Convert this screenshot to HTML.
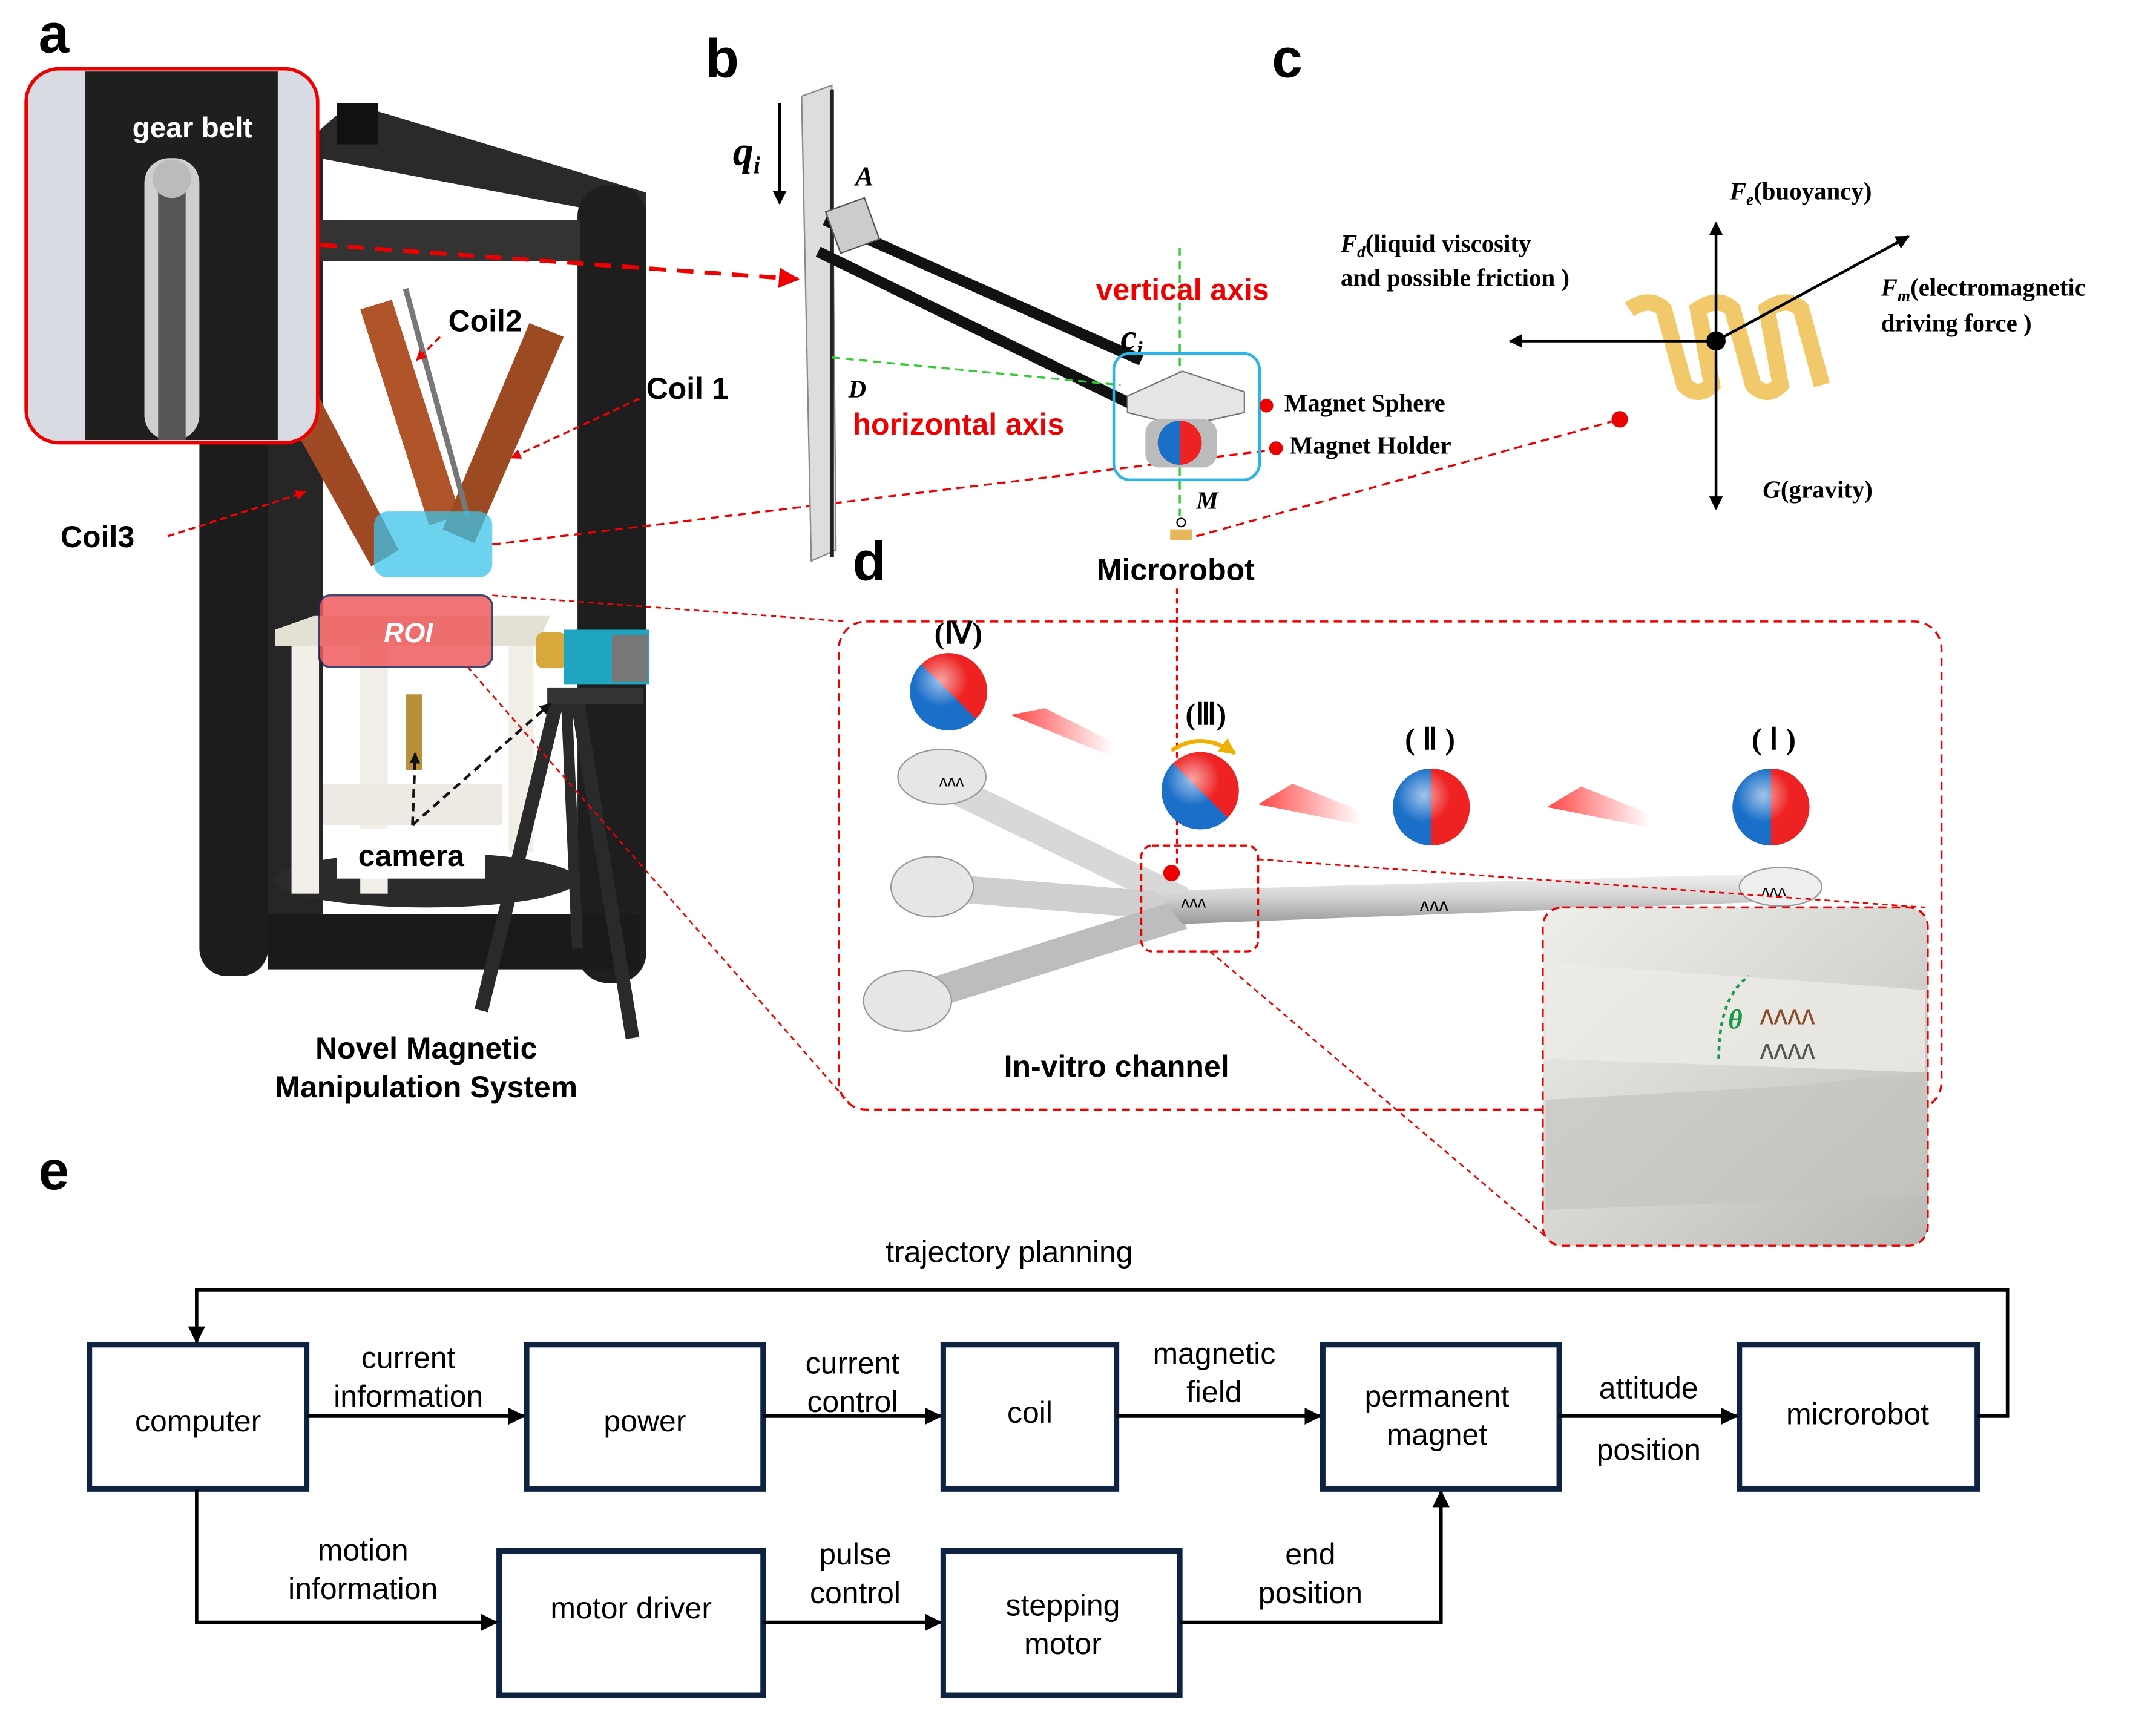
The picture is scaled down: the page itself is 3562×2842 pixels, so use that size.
<!DOCTYPE html>
<html><head><meta charset="utf-8"><style>
html,body{margin:0;padding:0;background:#fff;}
svg{display:block;}
text{font-family:"Liberation Sans",sans-serif;}
.s{font-family:"Liberation Serif",serif;font-weight:bold;}
</style></head><body>
<svg width="3562" height="2842" viewBox="0 0 1568 1251" xmlns="http://www.w3.org/2000/svg">
<defs>
<marker id="ah" viewBox="0 0 10 10" refX="9" refY="5" markerWidth="5" markerHeight="5" orient="auto"><path d="M0,0L10,5L0,10z" fill="#000"/></marker>
<marker id="ao" viewBox="0 0 10 10" refX="9" refY="5" markerWidth="4" markerHeight="4" orient="auto"><path d="M0,0L10,5L0,10z" fill="#f0b000"/></marker>
<marker id="ar" viewBox="0 0 10 10" refX="9" refY="5" markerWidth="5" markerHeight="5" orient="auto"><path d="M0,0L10,5L0,10z" fill="#e00"/></marker>
<marker id="ab" viewBox="0 0 10 10" refX="9" refY="5" markerWidth="4" markerHeight="4" orient="auto"><path d="M0,0L10,5L0,10z" fill="#111"/></marker>
<radialGradient id="sph" cx="0.4" cy="0.35" r="0.7"><stop offset="0" stop-color="#fff" stop-opacity="0.6"/><stop offset="0.5" stop-color="#fff" stop-opacity="0"/></radialGradient>
<linearGradient id="tube" x1="0" y1="0" x2="0" y2="1"><stop offset="0" stop-color="#f2f2f2"/><stop offset="0.5" stop-color="#d0d0d0"/><stop offset="1" stop-color="#999"/></linearGradient>
<linearGradient id="fade" x1="1" y1="0" x2="0" y2="0"><stop offset="0" stop-color="#f55" stop-opacity="0"/><stop offset="1" stop-color="#f44"/></linearGradient>
<linearGradient id="ins" x1="0" y1="0" x2="1" y2="1"><stop offset="0" stop-color="#eeeeea"/><stop offset="0.5" stop-color="#d6d6d2"/><stop offset="1" stop-color="#b8b8b4"/></linearGradient>
</defs>

<text x="28" y="38" font-size="40" font-weight="bold">a</text>
<polygon points="232,95 255,75 470,140 470,160 232,115" fill="#2a2a2a"/>
<rect x="145" y="190" width="50" height="520" rx="20" fill="#1c1c1c"/>
<rect x="420" y="135" width="50" height="580" rx="22" fill="#1e1e1e"/>
<rect x="195" y="95" width="40" height="600" fill="#262626"/>
<rect x="195" y="665" width="270" height="40" fill="#1a1a1a"/>
<ellipse cx="310" cy="640" rx="110" ry="20" fill="#2b2b2b"/>
<rect x="232" y="160" width="190" height="30" fill="#333"/>
<rect x="245" y="75" width="30" height="30" fill="#111"/>
<polygon points="205,295 230,285 290,400 270,412" fill="#a04a25"/>
<polygon points="262,225 285,218 335,375 312,382" fill="#b0552a"/>
<polygon points="385,235 410,245 345,395 322,385" fill="#9c4a22"/>
<line x1="295" y1="210" x2="340" y2="375" stroke="#777" stroke-width="4"/>
<rect x="272" y="372" width="86" height="48" rx="10" fill="#3cc3e8" opacity="0.75"/>
<polygon points="200,458 228,448 400,448 390,470 200,470" fill="#e4e0d4"/>
<rect x="212" y="470" width="20" height="180" fill="#f1efe8"/>
<rect x="262" y="470" width="20" height="180" fill="#f1efe8"/>
<rect x="370" y="470" width="18" height="150" fill="#f1efe8"/>
<rect x="235" y="570" width="130" height="30" fill="#eceae3"/>
<rect x="295" y="505" width="12" height="55" fill="#b9903a"/>
<rect x="232" y="433" width="126" height="52" rx="8" fill="#ef5b5b" opacity="0.85" stroke="#1a2a5a" stroke-width="1.5"/>
<text x="297" y="467" font-size="20" font-weight="bold" font-style="italic" fill="#fff" text-anchor="middle">ROI</text>
<rect x="390" y="460" width="22" height="26" rx="5" fill="#d7a83b"/>
<rect x="410" y="458" width="62" height="40" fill="#20a5c0"/>
<rect x="445" y="462" width="26" height="34" fill="#777"/>
<line x1="405" y1="510" x2="350" y2="735" stroke="#2a2a2a" stroke-width="10"/>
<line x1="420" y1="510" x2="460" y2="755" stroke="#2a2a2a" stroke-width="10"/>
<line x1="412" y1="510" x2="420" y2="690" stroke="#2a2a2a" stroke-width="8"/>
<rect x="398" y="500" width="70" height="12" fill="#333"/>
<line x1="300" y1="600" x2="400" y2="512" stroke="#111" stroke-width="2" stroke-dasharray="6,4" marker-end="url(#ab)"/>
<line x1="300" y1="600" x2="302" y2="548" stroke="#111" stroke-width="2" stroke-dasharray="6,4" marker-end="url(#ab)"/>
<rect x="245" y="603" width="108" height="36" fill="#fff"/>
<text x="299" y="630" font-size="22" font-weight="bold" text-anchor="middle">camera</text>
<rect x="19" y="50" width="212" height="272" rx="24" fill="#d8dce2" stroke="#e00" stroke-width="2.5"/>
<rect x="62" y="52" width="140" height="268" fill="#1f1f1f"/>
<rect x="105" y="115" width="40" height="205" rx="18" fill="#cfcfcf"/>
<rect x="115" y="130" width="20" height="190" fill="#555"/>
<circle cx="125" cy="130" r="14" fill="#bbb"/>
<text x="140" y="100" font-size="21" font-weight="bold" fill="#fff" text-anchor="middle">gear belt</text>
<text x="326" y="241" font-size="22" font-weight="bold">Coil2</text>
<text x="470" y="290" font-size="22" font-weight="bold">Coil 1</text>
<text x="44" y="398" font-size="22" font-weight="bold">Coil3</text>
<line x1="320" y1="245" x2="303" y2="262" stroke="#e00" stroke-width="1.5" stroke-dasharray="5,3" marker-end="url(#ar)"/>
<line x1="465" y1="290" x2="372" y2="333" stroke="#e00" stroke-width="1.5" stroke-dasharray="5,3" marker-end="url(#ar)"/>
<line x1="122" y1="390" x2="222" y2="358" stroke="#e00" stroke-width="1.5" stroke-dasharray="5,3" marker-end="url(#ar)"/>
<text x="310" y="770" font-size="22" font-weight="bold" text-anchor="middle">Novel Magnetic</text>
<text x="310" y="798" font-size="22" font-weight="bold" text-anchor="middle">Manipulation System</text>
<line x1="233" y1="178" x2="580" y2="203" stroke="#e00" stroke-width="3" stroke-dasharray="12,8" marker-end="url(#ar)"/>
<line x1="358" y1="396" x2="928" y2="327" stroke="#e00" stroke-width="1.5" stroke-dasharray="6,4"/>
<line x1="358" y1="433" x2="615" y2="452" stroke="#e00" stroke-width="1.2" stroke-dasharray="4,3"/>
<line x1="340" y1="485" x2="620" y2="805" stroke="#e00" stroke-width="1.2" stroke-dasharray="4,3"/>

<text x="513" y="56" font-size="40" font-weight="bold">b</text>
<polygon points="583,70 605,62 608,400 590,408" fill="#ddd" stroke="#888" stroke-width="1"/>
<line x1="605" y1="65" x2="605" y2="405" stroke="#222" stroke-width="3"/>
<line x1="567" y1="75" x2="567" y2="148" stroke="#000" stroke-width="2" marker-end="url(#ah)"/>
<text x="533" y="120" font-size="30" class="s" font-style="italic">q<tspan font-size="18" dy="6">i</tspan></text>
<text x="622" y="135" font-size="20" class="s" font-style="italic">A</text>
<line x1="600" y1="160" x2="830" y2="262" stroke="#111" stroke-width="8"/>
<line x1="595" y1="183" x2="825" y2="295" stroke="#111" stroke-width="8"/>
<rect x="605" y="148" width="30" height="32" fill="#ccc" stroke="#555" transform="rotate(-20 620 164)"/>
<line x1="605" y1="260" x2="815" y2="280" stroke="#3c3" stroke-width="1.5" stroke-dasharray="6,4"/>
<line x1="858" y1="180" x2="858" y2="375" stroke="#3c3" stroke-width="1.5" stroke-dasharray="6,4"/>
<text x="617" y="289" font-size="18" class="s" font-style="italic">D</text>
<text x="797" y="218" font-size="22" font-weight="bold" fill="#e00">vertical axis</text>
<text x="620" y="316" font-size="22" font-weight="bold" fill="#e00">horizontal axis</text>
<text x="815" y="254" font-size="26" class="s" font-style="italic">c<tspan font-size="16" dy="5">i</tspan></text>
<rect x="810" y="257" width="106" height="92" rx="12" fill="none" stroke="#2ab4e8" stroke-width="2"/>
<polygon points="820,288 860,270 905,285 905,300 860,310 820,300" fill="#e5e5e5" stroke="#777"/>
<rect x="833" y="305" width="52" height="35" rx="10" fill="#bbb"/>
<circle cx="858" cy="322" r="16" fill="#e22"/>
<path d="M858,306 A16,16 0 0 0 858,338 z" fill="#1a6fc9"/>
<circle cx="921" cy="295" r="5" fill="#e00"/>
<circle cx="928" cy="326" r="5" fill="#e00"/>
<text x="934" y="299" font-size="18" class="s">Magnet Sphere</text>
<text x="938" y="330" font-size="18" class="s">Magnet Holder</text>
<text x="870" y="370" font-size="18" class="s" font-style="italic">M</text>
<circle cx="859" cy="380" r="3" fill="none" stroke="#000"/>
<rect x="851" y="385" width="16" height="8" fill="#e6b85a"/>
<text x="855" y="422" font-size="22" font-weight="bold" text-anchor="middle">Microrobot</text>
<line x1="870" y1="390" x2="1178" y2="305" stroke="#e00" stroke-width="1.5" stroke-dasharray="6,4"/>
<circle cx="1178" cy="305" r="6" fill="#e00"/>
<line x1="856" y1="428" x2="856" y2="630" stroke="#e00" stroke-width="1.5" stroke-dasharray="4,3"/>

<text x="925" y="56" font-size="40" font-weight="bold">c</text>
<path d="M1185,225 q15,-10 25,0 l15,55 q10,10 20,0 l-10,-55 q15,-10 25,0 l15,55 q10,10 20,0 l-10,-55 q15,-10 25,0 l15,55" fill="none" stroke="#f0c050" stroke-width="12" opacity="0.85"/>
<line x1="1248" y1="248" x2="1248" y2="162" stroke="#000" stroke-width="2" marker-end="url(#ah)"/>
<line x1="1248" y1="248" x2="1248" y2="370" stroke="#000" stroke-width="2" marker-end="url(#ah)"/>
<line x1="1248" y1="248" x2="1098" y2="248" stroke="#000" stroke-width="2" marker-end="url(#ah)"/>
<line x1="1248" y1="248" x2="1388" y2="172" stroke="#000" stroke-width="2" marker-end="url(#ah)"/>
<circle cx="1248" cy="248" r="7" fill="#000"/>
<text x="1258" y="145" font-size="18" class="s"><tspan font-style="italic">F<tspan font-size="12" dy="4">e</tspan></tspan><tspan dy="-4">(buoyancy)</tspan></text>
<text x="975" y="183" font-size="18" class="s"><tspan font-style="italic">F<tspan font-size="12" dy="4">d</tspan></tspan><tspan dy="-4">(liquid viscosity</tspan></text>
<text x="975" y="208" font-size="18" class="s">and possible friction )</text>
<text x="1368" y="215" font-size="18" class="s"><tspan font-style="italic">F<tspan font-size="12" dy="4">m</tspan></tspan><tspan dy="-4">(electromagnetic</tspan></text>
<text x="1368" y="241" font-size="18" class="s">driving force )</text>
<text x="1282" y="362" font-size="18" class="s"><tspan font-style="italic">G</tspan>(gravity)</text>

<text x="620" y="422" font-size="40" font-weight="bold">d</text>
<rect x="610" y="452" width="802" height="355" rx="20" fill="none" stroke="#e00" stroke-width="1.5" stroke-dasharray="6,4"/>
<line x1="685" y1="570" x2="860" y2="655" stroke="#d8d8d8" stroke-width="20"/>
<line x1="680" y1="645" x2="860" y2="660" stroke="#cfcfcf" stroke-width="20"/>
<line x1="660" y1="728" x2="860" y2="665" stroke="#bdbdbd" stroke-width="22"/>
<polygon points="840,648 1300,635 1310,655 860,672" fill="url(#tube)"/>
<ellipse cx="685" cy="565" rx="32" ry="20" fill="#e6e6e6" stroke="#999"/>
<ellipse cx="678" cy="645" rx="30" ry="22" fill="#e6e6e6" stroke="#999"/>
<ellipse cx="660" cy="728" rx="32" ry="22" fill="#e6e6e6" stroke="#999"/>
<ellipse cx="1295" cy="645" rx="30" ry="14" fill="#eee" stroke="#999"/>
<text x="1043" y="663" font-size="14" text-anchor="middle">ʌʌʌ</text>
<text x="1290" y="652" font-size="12" text-anchor="middle">ʌʌʌ</text>
<text x="868" y="660" font-size="12" text-anchor="middle">ʌʌʌ</text>
<text x="692" y="572" font-size="12" text-anchor="middle">ʌʌʌ</text>
<rect x="830" y="615" width="85" height="77" rx="8" fill="none" stroke="#e00" stroke-width="1.5" stroke-dasharray="5,3"/>
<circle cx="852" cy="635" r="6" fill="#e00"/>
<line x1="915" y1="625" x2="1400" y2="660" stroke="#e00" stroke-width="1.2" stroke-dasharray="4,3"/>
<line x1="880" y1="692" x2="1125" y2="900" stroke="#e00" stroke-width="1.2" stroke-dasharray="4,3"/>
<g>
<circle cx="690" cy="503" r="28" fill="#e22"/><path d="M670,483 A28,28 0 0 0 710,523 z" fill="#1a6fc9"/><circle cx="690" cy="503" r="28" fill="url(#sph)"/>
<circle cx="873" cy="575" r="28" fill="#e22"/><path d="M853,555 A28,28 0 0 0 893,595 z" fill="#1a6fc9"/><circle cx="873" cy="575" r="28" fill="url(#sph)"/>
<circle cx="1041" cy="587" r="28" fill="#e22"/><path d="M1041,559 A28,28 0 0 0 1041,615 z" fill="#1a6fc9"/><circle cx="1041" cy="587" r="28" fill="url(#sph)"/>
<circle cx="1288" cy="587" r="28" fill="#e22"/><path d="M1288,559 A28,28 0 0 0 1288,615 z" fill="#1a6fc9"/><circle cx="1288" cy="587" r="28" fill="url(#sph)"/>
</g>
<path d="M852,546 q22,-15 46,2" fill="none" stroke="#f0b000" stroke-width="3" marker-end="url(#ao)"/>
<polygon points="735,520 760,515 810,540 808,550" fill="url(#fade)"/>
<polygon points="915,585 940,570 990,590 990,600" fill="url(#fade)"/>
<polygon points="1125,587 1150,572 1200,592 1200,602" fill="url(#fade)"/>
<text x="697" y="468" font-size="22" class="s" text-anchor="middle">(Ⅳ)</text>
<text x="877" y="527" font-size="22" class="s" text-anchor="middle">(Ⅲ)</text>
<text x="1040" y="545" font-size="22" class="s" text-anchor="middle">( Ⅱ )</text>
<text x="1290" y="545" font-size="22" class="s" text-anchor="middle">( Ⅰ )</text>
<text x="812" y="783" font-size="22" font-weight="bold" text-anchor="middle">In-vitro channel</text>
<rect x="1122" y="660" width="280" height="246" rx="14" fill="url(#ins)" stroke="#e00" stroke-width="1.5" stroke-dasharray="6,4"/>
<polygon points="1124,700 1400,720 1400,780 1124,770" fill="#ecebe6" opacity="0.8"/>
<polygon points="1124,800 1300,790 1400,780 1400,870 1124,880" fill="#c4c4c0" opacity="0.7"/>
<text x="1300" y="745" font-size="20" fill="#8b4a2a" text-anchor="middle">ʌʌʌʌ</text>
<text x="1300" y="770" font-size="20" fill="#555" text-anchor="middle">ʌʌʌʌ</text>
<text x="1262" y="748" font-size="20" class="s" font-style="italic" fill="#1a9a4a" text-anchor="middle">θ</text>
<path d="M1250,770 q0,-45 22,-60" fill="none" stroke="#1a9a4a" stroke-width="2" stroke-dasharray="3,3"/>

<text x="28" y="865" font-size="40" font-weight="bold">e</text>
<g fill="none" stroke="#0d2341" stroke-width="4">
<rect x="65" y="978" width="158" height="105"/>
<rect x="383" y="978" width="172" height="105"/>
<rect x="686" y="978" width="126" height="105"/>
<rect x="962" y="978" width="172" height="105"/>
<rect x="1265" y="978" width="173" height="105"/>
<rect x="363" y="1128" width="192" height="105"/>
<rect x="686" y="1128" width="172" height="105"/>
</g>
<g stroke="#000" stroke-width="2.5" fill="none" marker-end="url(#ah)">
<line x1="223" y1="1030" x2="381" y2="1030"/>
<line x1="555" y1="1030" x2="684" y2="1030"/>
<line x1="812" y1="1030" x2="960" y2="1030"/>
<line x1="1134" y1="1030" x2="1263" y2="1030"/>
<polyline points="1438,1030 1460,1030 1460,938 143,938 143,976"/>
<polyline points="143,1083 143,1180 361,1180"/>
<line x1="555" y1="1180" x2="684" y2="1180"/>
<polyline points="858,1180 1048,1180 1048,1085"/>
</g>
<g font-size="22" text-anchor="middle" fill="#000">
<text x="144" y="1041">computer</text>
<text x="469" y="1041">power</text>
<text x="749" y="1035">coil</text>
<text x="1045" y="1023">permanent</text>
<text x="1045" y="1051">magnet</text>
<text x="1351" y="1036">microrobot</text>
<text x="459" y="1177">motor driver</text>
<text x="773" y="1175">stepping</text>
<text x="773" y="1203">motor</text>
<text x="297" y="995">current</text>
<text x="297" y="1023">information</text>
<text x="620" y="999">current</text>
<text x="620" y="1027">control</text>
<text x="883" y="992">magnetic</text>
<text x="883" y="1020">field</text>
<text x="1199" y="1017">attitude</text>
<text x="1199" y="1062">position</text>
<text x="734" y="918">trajectory planning</text>
<text x="264" y="1135">motion</text>
<text x="264" y="1163">information</text>
<text x="622" y="1138">pulse</text>
<text x="622" y="1166">control</text>
<text x="953" y="1138">end</text>
<text x="953" y="1166">position</text>
</g>
</svg>
</body></html>
